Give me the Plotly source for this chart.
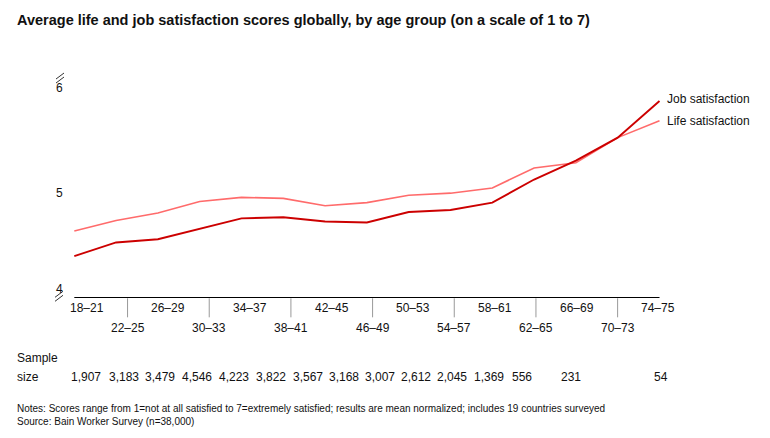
import plotly.graph_objects as go

# ---- data ----
age_groups = ["18–21", "22–25", "26–29", "30–33", "34–37", "38–41", "42–45", "46–49",
              "50–53", "54–57", "58–61", "62–65", "66–69", "70–73", "74–75"]
job_satisfaction = [4.40, 4.53, 4.56, 4.66, 4.76, 4.77, 4.73, 4.72, 4.82, 4.84, 4.91, 5.13, 5.31, 5.53, 5.88]
life_satisfaction = [4.64, 4.74, 4.81, 4.92, 4.96, 4.95, 4.88, 4.91, 4.98, 5.00, 5.05, 5.24, 5.29, 5.53, 5.69]
sample_sizes = ["1,907", "3,183", "3,479", "4,546", "4,223", "3,822", "3,567", "3,168",
                "3,007", "2,612", "2,045", "1,369", "556", "231", "54"]
y_tick_values = [4, 5, 6]

FONT = "Arial, Liberation Sans, sans-serif"
JOB_COLOR = "#cc0000"
LIFE_COLOR = "#ff6b6b"

# page offset of the figure inside the browser window
OFF = 8
W, H = 770, 438
# plot area in window pixels
PL, PR, PT, PB = 60, 680, 60, 297.7
PW = PR - PL
PH = PB - PT
ML, MR, MT, MB = PL - OFF, W - (PR - OFF), PT - OFF, H - (PB - OFF)
X_UNIT = 41.8   # px per category step
Y_UNIT = 104.7  # px per score unit
X0_PX = 74.3    # window px of first category

x_idx = list(range(len(age_groups)))

fig = go.Figure()
fig.add_trace(go.Scatter(x=x_idx, y=life_satisfaction, mode="lines",
                         line=dict(color=LIFE_COLOR, width=1.6), name="Life satisfaction",
                         hoverinfo="skip"))
fig.add_trace(go.Scatter(x=x_idx, y=job_satisfaction, mode="lines",
                         line=dict(color=JOB_COLOR, width=1.9), name="Job satisfaction",
                         hoverinfo="skip"))

def px_to_paper_x(px):
    return (px - PL) / PW

def px_to_paper_y(py):
    return (PB - py) / PH

ann = []
shapes = []

# baseline
shapes.append(dict(type="line", xref="x", yref="y", x0=0, x1=len(age_groups) - 1,
                   y0=4, y1=4, line=dict(color="black", width=2)))

# category labels (alternating rows) and tick separators
for i, lab in enumerate(age_groups):
    lx = 0.297 + 0.977 * i
    if i % 2 == 0:
        ann.append(dict(x=lx, xref="x", y=px_to_paper_y(308), yref="paper", text=lab,
                        showarrow=False, xanchor="center", yanchor="middle",
                        font=dict(size=12, color="#111", family=FONT)))
    else:
        ann.append(dict(x=lx, xref="x", y=px_to_paper_y(328), yref="paper", text=lab,
                        showarrow=False, xanchor="center", yanchor="middle",
                        font=dict(size=12, color="#111", family=FONT)))
        shapes.append(dict(type="line", xref="x", yref="paper", x0=lx, x1=lx,
                           y0=px_to_paper_y(298), y1=px_to_paper_y(317),
                           line=dict(color="#999999", width=1)))

# y labels
for v in y_tick_values:
    yy = v + (0.09 if v == 4 else 0)
    ann.append(dict(x=px_to_paper_x(65), xref="paper", y=yy, yref="y", text=str(v),
                    showarrow=False, xanchor="right", yanchor="middle",
                    font=dict(size=12, color="#111", family=FONT)))

# axis break marks
for (cx, cy) in [(60, 78), (59, 296)]:
    for dy in (-2, 2):
        shapes.append(dict(type="line", xref="paper", yref="paper",
                           x0=px_to_paper_x(cx - 4), x1=px_to_paper_x(cx + 4),
                           y0=px_to_paper_y(cy + dy + 3), y1=px_to_paper_y(cy + dy - 3),
                           line=dict(color="#333", width=1)))

# series labels
ann.append(dict(x=len(age_groups) - 1, xref="x", y=job_satisfaction[-1], yref="y",
                text="Job satisfaction", showarrow=False, xanchor="left", yanchor="middle",
                xshift=5, yshift=2, font=dict(size=12, color="#111", family=FONT)))
ann.append(dict(x=len(age_groups) - 1, xref="x", y=life_satisfaction[-1], yref="y",
                text="Life satisfaction", showarrow=False, xanchor="left", yanchor="middle",
                xshift=5, font=dict(size=12, color="#111", family=FONT)))

# sample sizes
ann.append(dict(x=px_to_paper_x(15), xref="paper", y=px_to_paper_y(358), yref="paper",
                text="Sample", showarrow=False, xanchor="left", yanchor="middle",
                font=dict(size=12, color="#111", family=FONT)))
ann.append(dict(x=px_to_paper_x(15), xref="paper", y=px_to_paper_y(377), yref="paper",
                text="size", showarrow=False, xanchor="left", yanchor="middle",
                font=dict(size=12, color="#111", family=FONT)))
sample_x_px = [86, 124, 160, 197, 234, 271, 308, 344, 380, 416, 452, 489, 522, 571, 661]
for s, sx in zip(sample_sizes, sample_x_px):
    ann.append(dict(x=px_to_paper_x(sx), xref="paper", y=px_to_paper_y(377), yref="paper",
                    text=s, showarrow=False, xanchor="center", yanchor="middle",
                    font=dict(size=12, color="#111", family=FONT)))

# notes
ann.append(dict(x=px_to_paper_x(15), xref="paper", y=px_to_paper_y(408), yref="paper",
                text="Notes: Scores range from 1=not at all satisfied to 7=extremely satisfied; results are mean normalized; includes 19 countries surveyed",
                showarrow=False, xanchor="left", yanchor="middle",
                font=dict(size=10, color="#111", family=FONT)))
ann.append(dict(x=px_to_paper_x(15), xref="paper", y=px_to_paper_y(421), yref="paper",
                text="Source: Bain Worker Survey (n=38,000)",
                showarrow=False, xanchor="left", yanchor="middle",
                font=dict(size=10, color="#111", family=FONT)))

x_lo = -(X0_PX - PL) / X_UNIT
fig.update_layout(
    width=W, height=H,
    margin=dict(l=ML, r=MR, t=MT, b=MB),
    paper_bgcolor="white", plot_bgcolor="white",
    showlegend=False,
    title=dict(text="<b>Average life and job satisfaction scores globally, by age group (on a scale of 1 to 7)</b>",
               x=(17 - OFF) / W, xanchor="left", xref="container",
               y=1 - (20 - OFF) / H, yanchor="middle", yref="container",
               font=dict(size=14.5, color="#111", family=FONT)),
    xaxis=dict(range=[x_lo, x_lo + PW / X_UNIT],
               showgrid=False, zeroline=False, showline=False, showticklabels=False, ticks=""),
    yaxis=dict(range=[4, 4 + PH / Y_UNIT], showgrid=False, zeroline=False, showline=False,
               showticklabels=False, ticks=""),
    annotations=ann, shapes=shapes,
)

fig.write_html("out.html")
